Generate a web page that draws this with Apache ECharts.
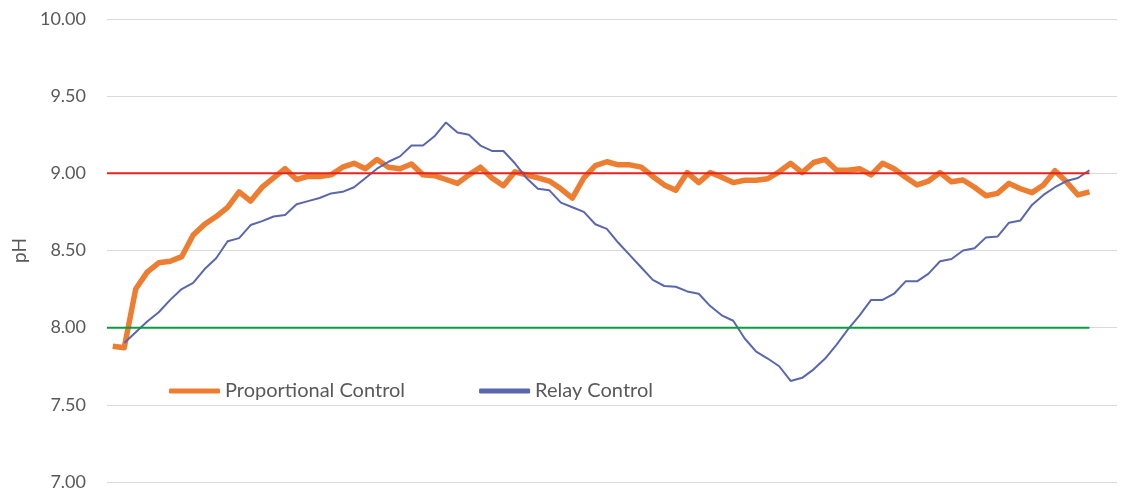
<!DOCTYPE html>
<html>
<head>
<meta charset="utf-8">
<script src="https://cdn.jsdelivr.net/npm/echarts@6/dist/echarts.min.js"></script>
<style>
  html, body { margin: 0; padding: 0; background: #ffffff; }
  #chart { width: 1139px; height: 491px; }
</style>
</head>
<body>
<div id="chart"></div>
<script>
// pH readings, one per sample step
const proportional = [
  7.88, 7.87, 8.25, 8.36, 8.42, 8.43, 8.46, 8.60, 8.67, 8.72,
  8.78, 8.88, 8.82, 8.91, 8.97, 9.03, 8.96, 8.98, 8.98, 8.99,
  9.04, 9.065, 9.03, 9.09, 9.04, 9.03, 9.06, 8.99, 8.985, 8.96,
  8.935, 8.99, 9.04, 8.97, 8.92, 9.01, 8.99, 8.97, 8.95, 8.90,
  8.84, 8.97, 9.05, 9.075, 9.055, 9.055, 9.04, 8.98, 8.925, 8.89,
  9.005, 8.94, 9.005, 8.975, 8.94, 8.955, 8.955, 8.965, 9.01, 9.065,
  9.005, 9.07, 9.09, 9.02, 9.02, 9.03, 8.99, 9.065, 9.03, 8.975,
  8.925, 8.95, 9.005, 8.945, 8.957, 8.91, 8.855, 8.87, 8.935, 8.90,
  8.875, 8.925, 9.017, 8.945, 8.86, 8.88
];
const relay = [
  null, 7.90, 7.97, 8.04, 8.10, 8.18, 8.25, 8.29, 8.38, 8.45,
  8.56, 8.58, 8.665, 8.69, 8.72, 8.73, 8.80, 8.82, 8.84, 8.87,
  8.88, 8.91, 8.97, 9.03, 9.075, 9.11, 9.18, 9.18, 9.24, 9.33,
  9.265, 9.25, 9.18, 9.145, 9.145, 9.065, 8.97, 8.90, 8.89, 8.81,
  8.78, 8.75, 8.67, 8.64, 8.55, 8.47, 8.39, 8.31, 8.27, 8.265,
  8.235, 8.22, 8.14, 8.08, 8.045, 7.93, 7.845, 7.80, 7.75, 7.655,
  7.675, 7.73, 7.80, 7.89, 7.99, 8.08, 8.18, 8.18, 8.22, 8.30,
  8.30, 8.35, 8.43, 8.445, 8.50, 8.515, 8.585, 8.59, 8.68, 8.695,
  8.795, 8.86, 8.91, 8.95, 8.97, 9.02
];
// control band limits
const upperLimit = 9.0;
const lowerLimit = 8.0;
// y axis ticks
const yTicks = [7.0, 7.5, 8.0, 8.5, 9.0, 9.5, 10.0];
const seriesNames = ['Proportional Control', 'Relay Control'];

const lastIdx = proportional.length - 1;
const toPairs = arr => arr.map((v, i) => [i, v]);
const band = v => [[-0.5, v], [lastIdx, v]];

const FONT = 'Lato';
const TEXT = '#595959';

const chart = echarts.init(document.getElementById('chart'));
chart.setOption({
  animation: false,
  backgroundColor: '#ffffff',
  grid: { left: 107, right: 22, top: 19, bottom: 9 },
  legend: {
    data: seriesNames,
    left: 164,
    top: 376,
    icon: 'roundRect',
    itemWidth: 51,
    itemHeight: 5,
    itemGap: 74,
    textStyle: { fontFamily: FONT, fontSize: 20, color: TEXT }
  },
  xAxis: {
    type: 'value',
    min: -0.5,
    max: 87.4,
    show: false
  },
  yAxis: {
    type: 'value',
    min: yTicks[0],
    max: yTicks[yTicks.length - 1],
    interval: 0.5,
    name: 'pH',
    nameLocation: 'middle',
    nameGap: 78,
    nameTextStyle: { fontFamily: FONT, fontSize: 19, color: TEXT },
    axisLine: { show: false },
    axisTick: { show: false },
    axisLabel: {
      margin: 21,
      fontFamily: FONT,
      fontSize: 18,
      color: TEXT,
      formatter: v => v.toFixed(2)
    },
    splitLine: { lineStyle: { color: '#d9d9d9', width: 1 } }
  },
  series: [
    {
      name: seriesNames[0],
      type: 'line',
      data: toPairs(proportional),
      showSymbol: false,
      symbol: 'none',
      lineStyle: { color: '#ed7d31', width: 5.5, join: 'round' },
      itemStyle: { color: '#ed7d31' },
      z: 2
    },
    {
      name: seriesNames[1],
      type: 'line',
      data: toPairs(relay),
      showSymbol: false,
      symbol: 'none',
      lineStyle: { color: '#5a66ae', width: 2 },
      itemStyle: { color: '#5a66ae' },
      z: 3
    },
    {
      name: 'upper',
      type: 'line',
      data: band(upperLimit),
      showSymbol: false,
      symbol: 'none',
      silent: true,
      lineStyle: { color: '#e8231f', width: 2 },
      z: 4
    },
    {
      name: 'lower',
      type: 'line',
      data: band(lowerLimit),
      showSymbol: false,
      symbol: 'none',
      silent: true,
      lineStyle: { color: '#0e9a43', width: 2 },
      z: 4
    }
  ]
});
</script>
</body>
</html>
